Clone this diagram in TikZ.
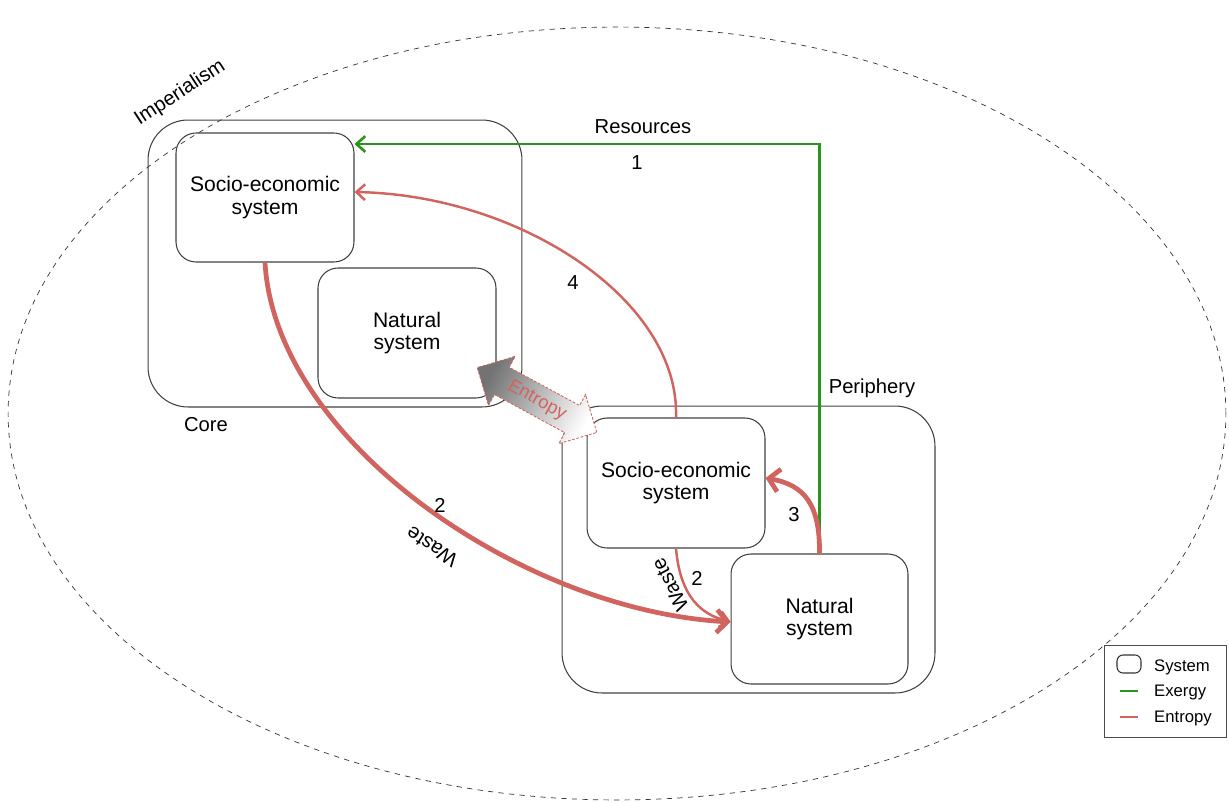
\documentclass[tikz,border=0pt]{standalone}
\usepackage{fontspec}
\setmainfont{Liberation Sans}
\usetikzlibrary{shapes.geometric,shapes.arrows,arrows.meta}
\definecolor{exergy}{RGB}{40,150,30}
\definecolor{entropy}{RGB}{210,100,95}
\begin{document}
\begin{tikzpicture}[x=0.02cm,y=-0.02cm,
sys/.style={draw=black!75, line width=0.6pt, rounded corners=0.4cm, inner sep=0pt, align=center, font=\fontsize{12}{13}\selectfont},
lbl/.style={font=\fontsize{11.5}{13}\selectfont},
legtxt/.style={anchor=west, font=\fontsize{9.5}{11}\selectfont},
exg/.style={color=exergy, line width=1.5pt, -{Straight Barb[length=5pt,width=9pt]}},
ent/.style={color=entropy, line width=1.4pt, -{Straight Barb[length=5pt,width=9pt]}},
thickent/.style={color=entropy, line width=2.7pt, -{Straight Barb[length=6pt,width=13pt]}}]
\useasboundingbox (0,0) rectangle (1229,801);
\node[ellipse, draw=black!80, dashed, minimum width=24.36cm, minimum height=15.46cm] (imp) at (617,413.5){};
\node[lbl, rotate=33] (impl) at (180,93){Imperialism};
\node[sys, rounded corners=0.8cm, minimum width=7.48cm, minimum height=5.74cm] (core) at (335,263.5){};
\node[sys, minimum width=3.56cm, minimum height=2.58cm] (coreSE) at (265,197.5){Socio-economic\\system};
\node[sys, minimum width=3.56cm, minimum height=2.6cm] (coreNat) at (407,333){Natural\\system};
\node[lbl] (corel) at (206,425){Core};
\node[sys, rounded corners=0.8cm, minimum width=7.46cm, minimum height=5.74cm] (peri) at (748.5,549.5){};
\node[sys, minimum width=3.56cm, minimum height=2.6cm] (periSE) at (676,483){Socio-economic\\system};
\node[sys, minimum width=3.54cm, minimum height=2.6cm] (periNat) at (819.5,619){Natural\\system};
\node[lbl] (peril) at (872,388){Periphery};
\draw[exg](periNat.north) |- ([yshift=1.07cm]coreSE.east);
\node[lbl] (resl) at (643,127){Resources};
\node[lbl] (n1) at (637,163){1};
\draw[ent](periSE.north) .. controls (680,300) and (520,195) .. ([yshift=0.11cm]coreSE.east);
\node[lbl] (n4) at (573,283){4};
\draw[thickent](coreSE.south) .. controls (275,440) and (520,610) .. ([yshift=-0.06cm]periNat.west);
\node[lbl] (n2a) at (440,505){2};
\node[lbl, rotate=147] (wastea) at (432,547){Waste};
\draw[ent](periSE.south) .. controls (680,595) and (700,615) .. ([yshift=-0.05cm]periNat.west);
\node[lbl] (n2b) at (697,578){2};
\node[lbl, rotate=118] (wasteb) at (670,585){Waste};
\draw[thickent](periNat.north) .. controls (820,505) and (805,485) .. ([yshift=0.1cm]periSE.east);
\node[lbl] (n3) at (794,515){3};
\node[double arrow, rotate=-28.5, minimum height=2.72cm, minimum width=1.06cm, inner xsep=0pt, inner ysep=3.3pt, text height=8pt, text depth=2.5pt, left color=black!55, right color=white, shading angle=61.5, draw=entropy, dash pattern=on 1.5pt off 1pt, line width=0.5pt, text=entropy, font=\fontsize{10.5}{12}\selectfont] (entr) at (537,400){Entropy};
\node[draw=black!70, minimum width=2.44cm, minimum height=1.84cm] (leg) at (1165,691){};
\node[draw=black!80, line width=0.6pt, rounded corners=0.12cm, minimum width=0.48cm, minimum height=0.36cm] (legsys) at (1129,664){};
\node[legtxt] (legsyst) at (1148,667){System};
\coordinate (lg1) at (1120,691);
\coordinate (lg2) at (1138,691);
\draw[exergy, line width=1.4pt](lg1) -- (lg2);
\node[legtxt] (legexg) at (1148,692){Exergy};
\coordinate (lr1) at (1120,717);
\coordinate (lr2) at (1138,717);
\draw[entropy, line width=1.4pt](lr1) -- (lr2);
\node[legtxt] (legent) at (1148,718){Entropy};
\end{tikzpicture}
\end{document}
